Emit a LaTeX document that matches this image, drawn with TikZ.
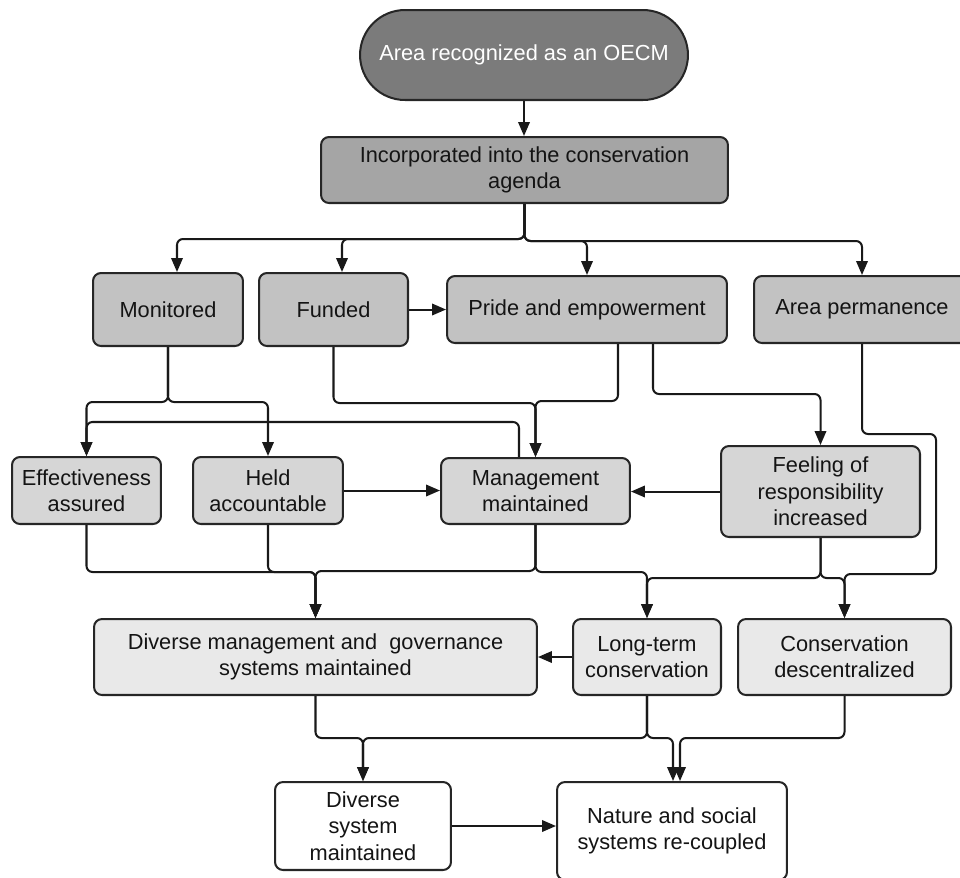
\documentclass[tikz,border=0pt]{standalone}
\usepackage{fontspec}
\setmainfont{Liberation Sans}
\usetikzlibrary{arrows.meta}
\definecolor{c0}{HTML}{7B7B7B}
\definecolor{c1}{HTML}{A5A5A5}
\definecolor{c2}{HTML}{C2C2C2}
\definecolor{c3}{HTML}{D6D6D6}
\definecolor{c4}{HTML}{E9E9E9}
\tikzset{
  box/.style={draw=black!85, line width=1.15pt, rounded corners=0.16cm, align=center,
    inner sep=0pt, font=\fontsize{12.4}{15}\selectfont, text=black!92},
  conn/.style={draw=black!90, line width=1.15pt, rounded corners=0.12cm,
    -{Triangle[length=0.28cm,width=0.23cm]}},
  plain/.style={draw=black!90, line width=1.15pt, rounded corners=0.12cm}
}
\begin{document}
\begin{tikzpicture}[x=0.02cm, y=-0.02cm]
\useasboundingbox (0,0) rectangle (960,877);
% nodes
\node[box, fill=c0, text=white, rounded corners=0.9cm, minimum width=6.56cm, minimum height=1.8cm] (oecm) at (524,55) {Area recognized as an OECM};
\node[box, fill=c1, minimum width=8.14cm, minimum height=1.32cm] (inc) at (524.5,170) {Incorporated into the conservation\\agenda};
\node[box, fill=c2, minimum width=3.0cm, minimum height=1.46cm] (mon) at (168,309.5) {Monitored};
\node[box, fill=c2, minimum width=2.98cm, minimum height=1.46cm] (fun) at (333.5,309.5) {Funded};
\node[box, fill=c2, minimum width=5.6cm, minimum height=1.34cm] (pride) at (587,309.5) {Pride and empowerment};
\node[box, fill=c2, minimum width=4.32cm, minimum height=1.34cm] (area) at (862,309.5) {Area permanence};
\node[box, fill=c3, minimum width=2.98cm, minimum height=1.34cm] (eff) at (86.5,490.5) {Effectiveness\\assured};
\node[box, fill=c3, minimum width=3.0cm, minimum height=1.34cm] (held) at (268,490.5) {Held\\accountable};
\node[box, fill=c3, minimum width=3.78cm, minimum height=1.32cm] (mgmt) at (535.5,491) {Management\\maintained};
\node[box, fill=c3, minimum width=3.98cm, minimum height=1.82cm] (feel) at (820.5,491.5) {Feeling of\\responsibility\\increased};
\node[box, fill=c4, minimum width=8.86cm, minimum height=1.52cm] (dmg) at (315.5,657) {Diverse management and\ \ governance\\systems maintained};
\node[box, fill=c4, minimum width=2.96cm, minimum height=1.52cm] (lt) at (647,657) {Long-term\\conservation};
\node[box, fill=c4, minimum width=4.26cm, minimum height=1.52cm] (cd) at (844.5,657) {Conservation\\descentralized};
\node[box, fill=white, minimum width=3.52cm, minimum height=1.76cm] (ds) at (363,826) {Diverse\\system\\maintained};
\node[box, fill=white, minimum width=4.6cm, minimum height=1.96cm] (nat) at (672,831) {Nature and social\\systems re-coupled};
% connectors
\draw[conn] (oecm.south) -- (oecm.south |- inc.north);
\draw[conn] (inc.south) -- ++(0,35) -| ([xshift=0.18cm]mon.north);
\draw[conn] (inc.south) -- ++(0,35) -| ([xshift=0.17cm]fun.north);
\draw[conn] (inc.south) -- ++(0,37) -| (pride.north);
\draw[conn] (inc.south) -- ++(0,37) -| (area.north);
\draw[conn] (fun.east) -- (pride.west);
\draw[conn] (mon.south) -- ++(0,55) -| (eff.north);
\draw[conn] (mon.south) -- ++(0,55) -| (held.north);
\draw[conn] ([xshift=-0.33cm]mgmt.north) -- ++(0,-35) -| (eff.north);
\draw[conn] (fun.south) -- ++(0,56) -| (mgmt.north);
\draw[conn] ([xshift=0.62cm]pride.south) -- ++(0,57) -| (mgmt.north);
\draw[conn] ([xshift=1.32cm]pride.south) -- ++(0,50) -| (feel.north);
\draw[conn] (held.east) -- (held.east -| mgmt.west);
\draw[conn] (feel.west) -- (feel.west -| mgmt.east);
\draw[conn] (area.south) -- ++(0,90) -- ++(74,0) -- ++(0,140) -| (cd.north);
\draw[conn] (eff.south) -- ++(0,47) -| (dmg.north);
\draw[conn] (held.south) -- ++(0,47) -| (dmg.north);
\draw[conn] (mgmt.south) -- ++(0,46) -| (dmg.north);
\draw[conn] (mgmt.south) -- ++(0,47) -| (lt.north);
\draw[conn] (feel.south) -- ++(0,40) -| (lt.north);
\draw[conn] (feel.south) -- ++(0,40) -| (cd.north);
\draw[conn] (lt.west) -- (dmg.east);
\draw[conn] (dmg.south) -- ++(0,42) -| (ds.north);
\draw[conn] (lt.south) -- ++(0,42) -| (ds.north);
\draw[conn] (lt.south) -- ++(0,42) -| ([xshift=0.02cm]nat.north);
\draw[conn] (cd.south) -- ++(0,42) -| ([xshift=0.16cm]nat.north);
\draw[conn] (ds.east) -- (ds.east -| nat.west);
\end{tikzpicture}
\end{document}
